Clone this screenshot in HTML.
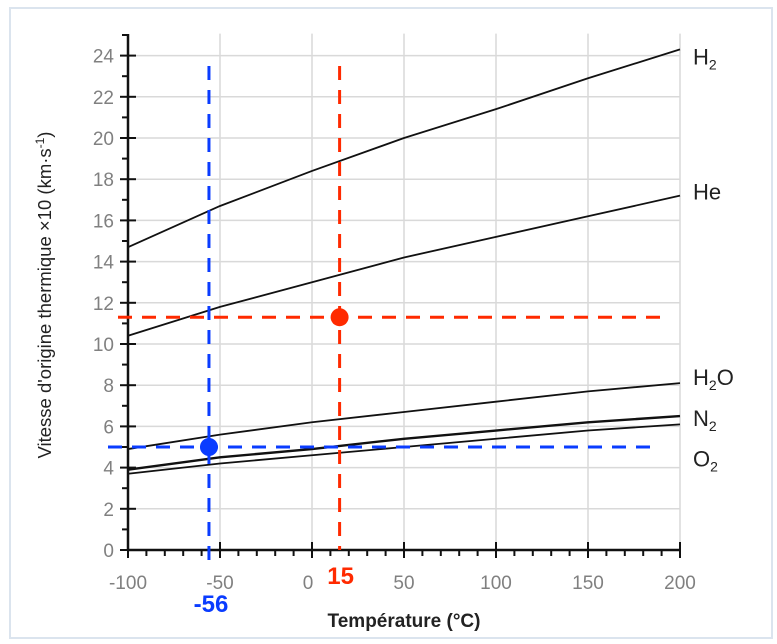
<!DOCTYPE html>
<html><head><meta charset="utf-8"><style>
body{margin:0;background:#fff;}
svg{display:block;font-family:"Liberation Sans",sans-serif;}
</style></head><body>
<svg id="chart" width="777" height="644">
<rect x="10" y="8" width="762" height="630" fill="#fff" stroke="#dbe4ee" stroke-width="2"/>
<g id="grid"></g><g id="series"></g><g id="axes"></g><g id="guides"></g><g id="labels"></g>
<text transform="translate(51,295) rotate(-90)" text-anchor="middle" font-size="18.5" fill="#222">Vitesse d'origine thermique ×10 (km·s<tspan baseline-shift="super" font-size="12">-1</tspan>)</text>
<text x="404" y="627" text-anchor="middle" font-size="19" font-weight="bold" fill="#222">Température (°C)</text>
</svg>
<script>
const temps=[-100,-50,0,50,100,150,200];
const h2=[14.7,16.7,18.4,20.0,21.4,22.9,24.3];
const he=[10.4,11.8,13.0,14.2,15.2,16.2,17.2];
const h2o=[4.9,5.6,6.2,6.7,7.2,7.7,8.1];
const n2=[3.9,4.5,4.9,5.4,5.8,6.2,6.5];
const o2=[3.7,4.2,4.6,5.0,5.4,5.8,6.1];
const xTicks=[-100,-50,0,50,100,150,200];
const yTicks=[0,2,4,6,8,10,12,14,16,18,20,22,24];
const redT=15, redV=11.3, blueT=-56, blueV=5;
const NS="http://www.w3.org/2000/svg";
const X=t=>128+(t+100)*1.84;
const Y=v=>550-v*20.6;
function mk(tag,attrs,parent){const e=document.createElementNS(NS,tag);for(const k in attrs)e.setAttribute(k,attrs[k]);document.getElementById(parent).appendChild(e);return e;}
xTicks.forEach(t=>{if(t>-100){const l=mk('line',{x1:X(t),x2:X(t),y1:Y(24)-22,y2:Y(0),stroke:'#d9d9d9','stroke-width':1.5},'grid');

}});
yTicks.forEach(v=>{if(v>0){const l=mk('line',{x1:X(-100),x2:X(200),y1:Y(v),y2:Y(v),stroke:'#d9d9d9','stroke-width':1.5},'grid');

}});
const ser=[['h2',h2],['he',he],['h2o',h2o],['n2',n2],['o2',o2]];
ser.forEach(([n,vals])=>{
 const p=mk('polyline',{points:temps.map((t,i)=>X(t)+','+Y(vals[i])).join(' '),fill:'none',stroke:'#111','stroke-width':n=='n2'?2.4:1.8,'stroke-linejoin':'round'},'series');
 
 
});
const labs=[['H','2','',h2,8],['He','','',he,-3],['H','2','O',h2o,-5],['N','2','',n2,3],['O','2','',o2,35]];
labs.forEach(([a,s,b,vals,dy])=>{
 const t=mk('text',{x:693,y:Y(vals[6])+dy+7,'font-size':22,fill:'#222'},'labels');
 
 
 t.innerHTML=a+(s?'<tspan font-size="14" dy="5">'+s+'</tspan>':'')+(b?'<tspan dy="-5">'+b+'</tspan>':'');
});
let a=mk('line',{x1:X(-100),x2:X(-100),y1:34,y2:Y(0),stroke:'#111','stroke-width':2.5},'axes');


a=mk('line',{x1:X(-100),x2:X(200),y1:Y(0),y2:Y(0),stroke:'#111','stroke-width':2.5},'axes');


for(let v=0;v<=25;v++){const major=v%2==0;const l=mk('line',{x1:X(-100)-(major?8:6),x2:X(-100)+(major?8:0),y1:Y(v),y2:Y(v),stroke:'#111','stroke-width':2},'axes');

}
for(let t=-100;t<=200;t+=10){const major=t%50==0;const l=mk('line',{x1:X(t),x2:X(t),y1:Y(0)-(major?8:0),y2:Y(0)+(major?8:6),stroke:'#111','stroke-width':2},'axes');

}
yTicks.forEach(v=>{const t=mk('text',{x:X(-100)-14,y:Y(v)+7,'text-anchor':'end','font-size':19,fill:'#808080'},'axes');t.textContent=v;

});
xTicks.forEach(v=>{const t=mk('text',{x:X(v)+(v==0?-4:0),y:Y(0)+39,'text-anchor':'middle','font-size':19,fill:'#808080'},'axes');t.textContent=v;

});
const dash={fill:'none','stroke-width':3,'stroke-dasharray':'14 10'};
let g=mk('line',Object.assign({x1:X(redT),x2:X(redT),y1:66,y2:Y(0),stroke:'#ff2a00'},dash),'guides');


g=mk('line',Object.assign({x1:118,x2:668,y1:Y(redV),y2:Y(redV),stroke:'#ff2a00'},dash),'guides');


g=mk('line',Object.assign({x1:X(blueT),x2:X(blueT),y1:66,y2:Y(0)+12,stroke:'#0a3cff'},dash),'guides');


g=mk('line',Object.assign({x1:108,x2:658,y1:Y(blueV),y2:Y(blueV),stroke:'#0a3cff'},dash),'guides');


g=mk('circle',{cx:X(redT),cy:Y(redV),r:9,fill:'#ff2a00'},'guides');


g=mk('circle',{cx:X(blueT),cy:Y(blueV),r:9,fill:'#0a3cff'},'guides');


g=mk('text',{x:X(redT)+1,y:Y(0)+34,'text-anchor':'middle','font-size':24,'font-weight':'bold',fill:'#ff2a00'},'guides');g.textContent=redT;


g=mk('text',{x:X(blueT)+2,y:Y(0)+62,'text-anchor':'middle','font-size':24,'font-weight':'bold',fill:'#0a3cff'},'guides');g.textContent=blueT;


</script>
</body></html>
